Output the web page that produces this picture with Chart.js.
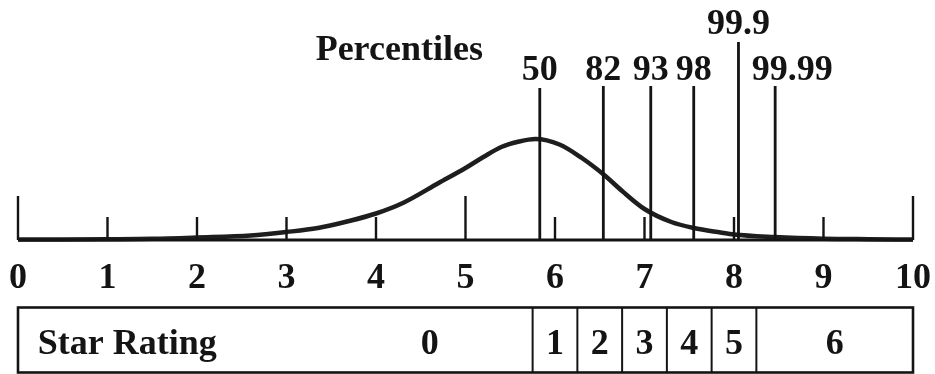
<!DOCTYPE html>
<html>
<head>
<meta charset="utf-8">
<script src="https://cdn.jsdelivr.net/npm/chart.js@4.4.1/dist/chart.umd.min.js"></script>
<style>
  html, body { margin: 0; padding: 0; background: #fff; }
  canvas { display: block; }
</style>
</head>
<body>
<canvas id="chart" width="935" height="374"></canvas>
<script>
// Score axis
const scoreTicks = [0, 1, 2, 3, 4, 5, 6, 7, 8, 9, 10];
const majorTicks = [0, 5, 10];

// Distribution of scores (score, relative frequency)
const curveScores = [0, 0.5, 1.0, 1.5, 2.0, 2.6, 3.0, 3.35, 3.7, 4.0, 4.3, 4.7, 5.0, 5.2, 5.4, 5.6, 5.78, 6.05, 6.3, 6.55, 6.75, 7.0, 7.3, 7.55, 7.85, 8.0, 8.45, 9.0, 9.5, 10];
const curveFreq   = [0.5, 0.6, 0.8, 1.2, 2.5, 4.5, 8, 12, 19, 26.5, 37, 57, 72, 83, 93, 98.5, 101, 95.5, 82, 65, 49, 31, 18, 12, 7.5, 5.5, 3, 1.3, 0.8, 0.5];

// Percentile markers
const percentileNames  = ['50', '82', '93', '98', '99.9', '99.99'];
const percentileScores = [5.83, 6.54, 7.07, 7.55, 8.05, 8.46];

// Star rating bands along the score axis
const starRatings   = ['0', '1', '2', '3', '4', '5', '6'];
const starBandEdges = [0, 5.75, 6.25, 6.75, 7.25, 7.75, 8.25, 10];

// ---- styling ----
const INK = '#141414';
const FONT = 'bold 36px "Liberation Serif", "Times New Roman", serif';
const style = {
  majorTickHeight: 44,
  minorTickHeight: 23,
  markerHeight: { '50': 152, '99.9': 198 },
  markerHeightDefault: 154,
  markerLabelBase: { '99.9': 206 },
  markerLabelBaseDefault: 160,
  markerLabelShift: { '99.99': 0.19 },
  titleAt: { x: 4.26, y: 180 },
  tickLabelBase: -48,
  table: { top: -67.5, bottom: -132.5, textBase: -114, titleX: 0.22, zeroLabelX: 4.6 }
};

function verticalSegments(xs, heightOf) {
  const pts = [];
  xs.forEach(x => { pts.push({ x, y: 0 }, { x, y: heightOf(x) }, { x, y: null }); });
  return pts;
}

const rules = {
  type: 'line',
  parsing: true,
  pointRadius: 0,
  borderColor: INK,
  borderCapStyle: 'butt',
  spanGaps: false,
  clip: false,
  tension: 0
};

const labelsPlugin = {
  id: 'labels',
  afterDatasetsDraw(chart) {
    const { ctx, scales: { x, y } } = chart;
    ctx.save();
    ctx.fillStyle = INK;
    ctx.strokeStyle = INK;
    ctx.font = FONT;
    ctx.textBaseline = 'alphabetic';

    // heading
    ctx.textAlign = 'center';
    ctx.fillText('Percentiles', x.getPixelForValue(style.titleAt.x), y.getPixelForValue(style.titleAt.y));

    // percentile labels
    percentileNames.forEach((name, i) => {
      const sx = percentileScores[i] + (style.markerLabelShift[name] || 0);
      const base = style.markerLabelBase[name] ?? style.markerLabelBaseDefault;
      ctx.fillText(name, x.getPixelForValue(sx), y.getPixelForValue(base));
    });

    // score tick labels
    scoreTicks.forEach(t => {
      ctx.fillText(String(t), x.getPixelForValue(t), y.getPixelForValue(style.tickLabelBase));
    });

    // star rating table
    const tb = style.table;
    const top = y.getPixelForValue(tb.top);
    const bottom = y.getPixelForValue(tb.bottom);
    const left = x.getPixelForValue(starBandEdges[0]);
    const right = x.getPixelForValue(starBandEdges[starBandEdges.length - 1]);
    ctx.lineWidth = 2.6;
    ctx.strokeRect(left, top, right - left, bottom - top);
    ctx.lineWidth = 2;
    for (let i = 1; i < starBandEdges.length - 1; i++) {
      const px = x.getPixelForValue(starBandEdges[i]);
      ctx.beginPath();
      ctx.moveTo(px, top);
      ctx.lineTo(px, bottom);
      ctx.stroke();
    }
    const textY = y.getPixelForValue(tb.textBase);
    ctx.textAlign = 'left';
    ctx.fillText('Star Rating', x.getPixelForValue(tb.titleX), textY);
    ctx.textAlign = 'center';
    starRatings.forEach((r, i) => {
      const cx = i === 0 ? tb.zeroLabelX : (starBandEdges[i] + starBandEdges[i + 1]) / 2;
      ctx.fillText(r, x.getPixelForValue(cx), textY);
    });
    ctx.restore();
  }
};

new Chart(document.getElementById('chart'), {
  type: 'line',
  data: {
    datasets: [
      Object.assign({}, rules, {
        label: 'axis',
        data: [{ x: scoreTicks[0], y: 0 }, { x: scoreTicks[scoreTicks.length - 1], y: 0 }],
        borderWidth: 3
      }),
      Object.assign({}, rules, {
        label: 'ticks',
        data: verticalSegments(scoreTicks, t => majorTicks.includes(t) ? style.majorTickHeight : style.minorTickHeight),
        borderWidth: 2.4
      }),
      Object.assign({}, rules, {
        label: 'percentiles',
        data: verticalSegments(percentileScores, s => {
          const name = percentileNames[percentileScores.indexOf(s)];
          return style.markerHeight[name] ?? style.markerHeightDefault;
        }),
        borderWidth: 2.8
      }),
      {
        label: 'distribution',
        data: curveScores.map((s, i) => ({ x: s, y: curveFreq[i] })),
        borderColor: '#1e1e1e',
        borderWidth: 4.5,
        pointRadius: 0,
        cubicInterpolationMode: 'monotone',
        clip: false,
        fill: false
      }
    ]
  },
  options: {
    responsive: false,
    animation: false,
    devicePixelRatio: 1,
    layout: { padding: { left: 18, right: 22, top: 0, bottom: 0 } },
    plugins: { legend: { display: false }, tooltip: { enabled: false } },
    scales: {
      x: { type: 'linear', min: 0, max: 10, display: false },
      y: { type: 'linear', min: -134, max: 240, display: false }
    }
  },
  plugins: [labelsPlugin]
});
</script>
</body>
</html>
